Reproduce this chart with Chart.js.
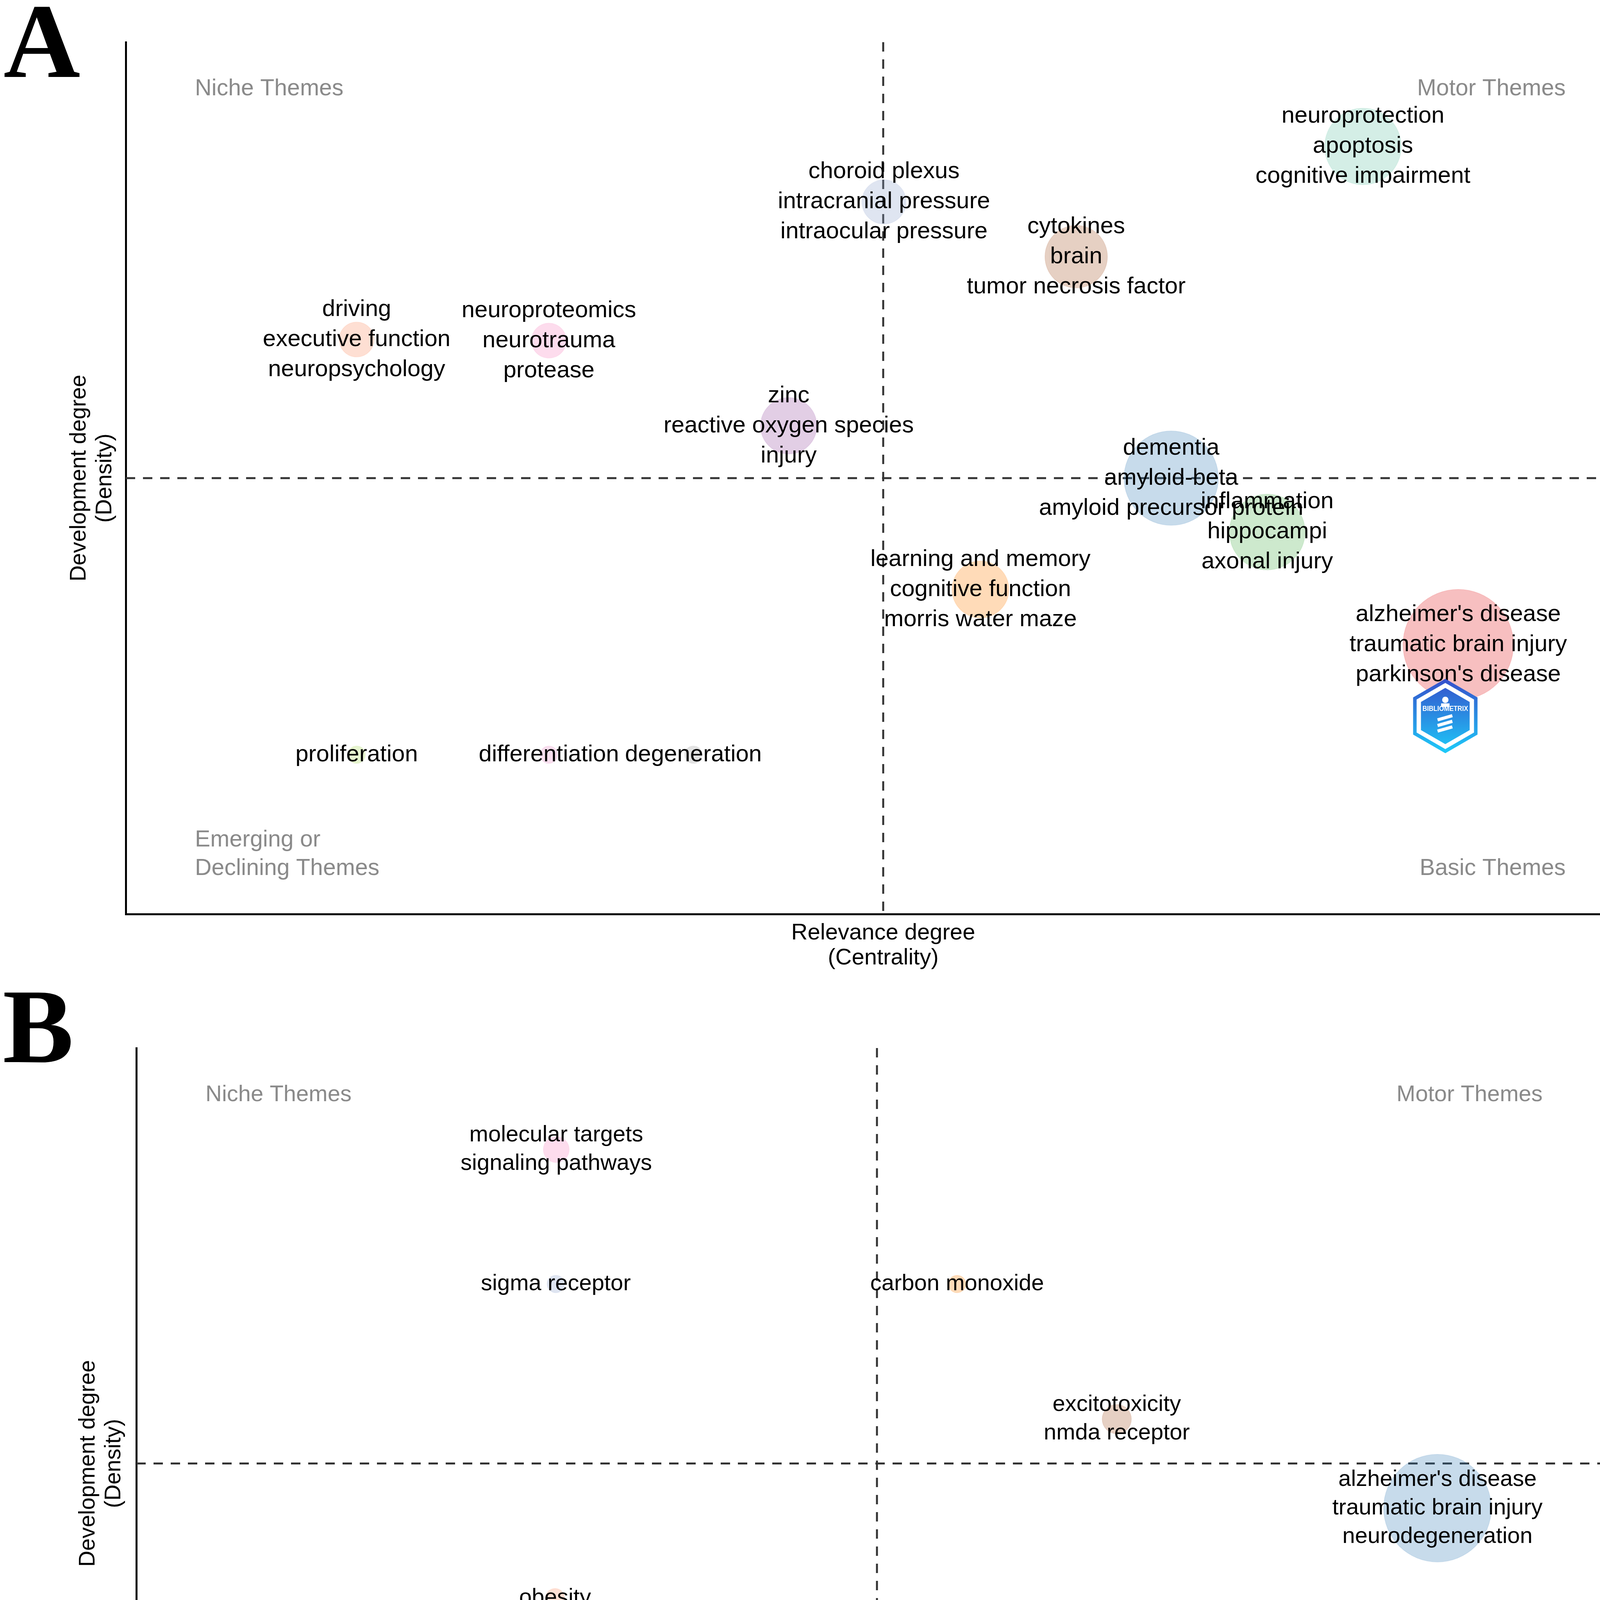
<!DOCTYPE html>
<html>
<head>
<meta charset="utf-8">
<script src="https://cdn.jsdelivr.net/npm/chart.js@4.4.1/dist/chart.umd.min.js"></script>
<style>
  html, body { margin: 0; padding: 0; background: #fff; }
  canvas { display: block; }
</style>
</head>
<body>
<canvas id="panelA" width="4212" height="2500"></canvas>
<canvas id="panelB" width="4212" height="2446"></canvas>
<script>
// Panel A - thematic map, 13 clusters
const labelsA = [
  ['neuroprotection', 'apoptosis', 'cognitive impairment'],
  ['choroid plexus', 'intracranial pressure', 'intraocular pressure'],
  ['cytokines', 'brain', 'tumor necrosis factor'],
  ['driving', 'executive function', 'neuropsychology'],
  ['neuroproteomics', 'neurotrauma', 'protease'],
  ['zinc', 'reactive oxygen species', 'injury'],
  ['dementia', 'amyloid-beta', 'amyloid precursor protein'],
  ['inflammation', 'hippocampi', 'axonal injury'],
  ['learning and memory', 'cognitive function', 'morris water maze'],
  ["alzheimer's disease", 'traumatic brain injury', "parkinson's disease"],
  ['proliferation'],
  ['differentiation'],
  ['degeneration']
];
const centralityA = [81.67, 50.05, 62.74, 15.24, 27.93, 43.76, 69.01, 75.35, 56.42, 87.96, 15.24, 27.93, 37.47];
const densityA    = [88.04, 81.68, 75.40, 65.90, 65.77, 56.00, 50.00, 43.82, 37.23, 30.91, 18.28, 18.28, 18.28];
const freqA       = [96, 32, 64, 20, 20, 52, 146, 94, 53, 200, 5, 5, 5];
const clusterA    = [9, 11, 6, 10, 7, 4, 2, 3, 5, 1, 13, 12, 8];

// Panel B - thematic map, 8 clusters
const labelsB = [
  ['molecular targets', 'signaling pathways'],
  ['sigma receptor'],
  ['carbon monoxide'],
  ['excitotoxicity', 'nmda receptor'],
  ["alzheimer's disease", 'traumatic brain injury', 'neurodegeneration'],
  ['obesity'],
  ['chronic traumatic encephalopathy', 'dementia', 'tau'],
  ['diffusion tensor imaging']
];
const centralityB = [28.35, 28.32, 55.41, 66.19, 87.84, 28.27, 77.00, 28.35];
const densityB    = [87.78, 71.60, 71.60, 55.34, 44.62, 33.80, 22.99, 12.13];
const freqB       = [11, 5, 5, 14, 190, 6, 144, 10];
const clusterB    = [7, 11, 5, 6, 2, 10, 1, 3];

// axes are rescaled so the mean centrality / density sit in the middle
const axisRange = [0, 100];
const meanCentrality = 50;
const meanDensity = 50;
const quadrantNames = ['Niche Themes', 'Motor Themes', ['Emerging or', 'Declining Themes'], 'Basic Themes'];
const xTitle = ['Relevance degree', '(Centrality)'];
const yTitle = ['Development degree', '(Density)'];

const palette = ['#E41A1C', '#377EB8', '#4DAF4A', '#984EA3', '#FF7F00', '#A65628', '#F781BF',
                 '#999999', '#66C2A5', '#FC8D62', '#8DA0CB', '#E78AC3', '#A6D854'];
const SANS = '"Liberation Sans", Arial, sans-serif';
const RADIUS_K = 10;

function rgba(hex, a) {
  const n = parseInt(hex.slice(1), 16);
  return `rgba(${(n >> 16) & 255}, ${(n >> 8) & 255}, ${n & 255}, ${a})`;
}

function drawLogo(ctx, cx, cy, R) {
  const hex = (r) => {
    ctx.beginPath();
    for (let k = 0; k < 6; k++) {
      const ang = -Math.PI / 2 + k * Math.PI / 3;
      const px = cx + r * Math.cos(ang), py = cy + r * Math.sin(ang);
      if (k) ctx.lineTo(px, py); else ctx.moveTo(px, py);
    }
    ctx.closePath();
  };
  const g = ctx.createLinearGradient(cx, cy - R, cx, cy + R);
  g.addColorStop(0, '#3552cc');
  g.addColorStop(1, '#1ec8f8');
  ctx.save();
  hex(R);
  ctx.fillStyle = '#fff';
  ctx.fill();
  ctx.lineWidth = R * 0.1;
  ctx.strokeStyle = g;
  ctx.stroke();
  hex(R * 0.8);
  ctx.fillStyle = g;
  ctx.fill();
  // little figure
  ctx.fillStyle = '#fff';
  ctx.beginPath();
  ctx.arc(cx, cy - R * 0.46, R * 0.09, 0, Math.PI * 2);
  ctx.fill();
  ctx.fillRect(cx - R * 0.12, cy - R * 0.36, R * 0.24, R * 0.1);
  ctx.lineWidth = R * 0.09;
  ctx.strokeStyle = '#fff';
  for (let k = 0; k < 3; k++) {
    const yy = cy + R * (0.05 + k * 0.16);
    ctx.beginPath();
    ctx.moveTo(cx - R * 0.22, yy + R * 0.06);
    ctx.lineTo(cx + R * 0.2, yy - R * 0.06);
    ctx.stroke();
  }
  ctx.font = `bold ${Math.round(R * 0.2)}px ${SANS}`;
  ctx.textAlign = 'center';
  ctx.textBaseline = 'middle';
  ctx.fillText('BIBLIOMETRIX', cx, cy - R * 0.2, R * 1.3);
  ctx.restore();
}

const mapDecor = {
  id: 'mapDecor',
  beforeDatasetsDraw(chart, args, o) {
    const {ctx, chartArea: a, scales: {x, y}} = chart;
    ctx.save();
    // quadrant names
    ctx.fillStyle = '#8a8a8a';
    ctx.font = `${o.quadFont}px ${SANS}`;
    ctx.textBaseline = 'middle';
    const qTop = a.top + 120, qBot = a.bottom - 116;
    ctx.textAlign = 'left';
    ctx.fillText(quadrantNames[0], a.left + 177, qTop);
    ctx.fillText(quadrantNames[2][0], a.left + 177, qBot - 73);
    ctx.fillText(quadrantNames[2][1], a.left + 177, qBot);
    ctx.textAlign = 'right';
    ctx.fillText(quadrantNames[1], a.right - 192, qTop);
    ctx.fillText(quadrantNames[3], a.right - 192, qBot);
    // mean lines
    ctx.strokeStyle = '#333';
    ctx.lineWidth = 5;
    ctx.setLineDash([24, 20]);
    const mx = x.getPixelForValue(meanCentrality);
    const my = y.getPixelForValue(meanDensity);
    ctx.beginPath();
    ctx.moveTo(mx, a.top);
    ctx.lineTo(mx, a.bottom);
    ctx.moveTo(a.left, my);
    ctx.lineTo(a.right, my);
    ctx.stroke();
    ctx.restore();
  },
  afterDatasetsDraw(chart, args, o) {
    const {ctx} = chart;
    const pts = chart.getDatasetMeta(0).data;
    ctx.save();
    ctx.fillStyle = '#000';
    ctx.font = `${o.labelFont}px ${SANS}`;
    ctx.textAlign = 'center';
    ctx.textBaseline = 'middle';
    o.labels.forEach((lines, i) => {
      const p = pts[i];
      const y0 = p.y - (lines.length - 1) / 2 * o.labelLine;
      lines.forEach((t, k) => ctx.fillText(t, p.x, y0 + k * o.labelLine));
    });
    drawLogo(ctx, o.logo[0], o.logo[1], o.logo[2]);
    // panel letter
    ctx.font = 'bold 272px "Liberation Serif", "Times New Roman", serif';
    ctx.textAlign = 'left';
    ctx.textBaseline = 'alphabetic';
    ctx.fillText(o.letter, o.letterPos[0], o.letterPos[1]);
    ctx.restore();
  }
};

function thematicMap(id, p) {
  const data = p.centrality.map((cx, i) => ({
    x: cx,
    y: p.density[i],
    r: RADIUS_K * Math.sqrt(p.freq[i])
  }));
  const colors = p.cluster.map(c => palette[c - 1]);
  return new Chart(document.getElementById(id), {
    type: 'bubble',
    data: {
      datasets: [{
        data: data,
        backgroundColor: colors.map(c => rgba(c, 0.28)),
        borderColor: colors.map(c => rgba(c, 0.12)),
        borderWidth: 2,
        clip: false
      }]
    },
    options: {
      responsive: false,
      devicePixelRatio: 1,
      animation: false,
      events: [],
      layout: { autoPadding: false, padding: p.padding },
      plugins: {
        legend: { display: false },
        tooltip: { enabled: false },
        mapDecor: p.decor
      },
      scales: {
        x: {
          type: 'linear',
          min: axisRange[0],
          max: axisRange[1],
          afterFit: s => { s.height = p.xAxisHeight; },
          ticks: { display: false },
          grid: { display: false },
          border: { display: true, color: '#000', width: 5 },
          title: {
            display: true,
            text: xTitle,
            color: '#000',
            font: { family: SANS, size: 58, lineHeight: p.titleLine + 'px' },
            padding: { top: 0, bottom: p.xTitlePad }
          }
        },
        y: {
          type: 'linear',
          min: axisRange[0],
          max: axisRange[1],
          afterFit: s => { s.width = p.yAxisWidth; },
          ticks: { display: false },
          grid: { display: false },
          border: { display: true, color: '#000', width: 5 },
          title: {
            display: true,
            text: yTitle,
            color: '#000',
            font: { family: SANS, size: 57, lineHeight: '66px' },
            padding: { top: p.yTitlePad, bottom: 0 }
          }
        }
      }
    },
    plugins: [mapDecor]
  });
}

thematicMap('panelA', {
  centrality: centralityA, density: densityA, freq: freqA, cluster: clusterA,
  padding: { left: 0, right: 12, top: 108, bottom: 0 },
  xAxisHeight: 160, yAxisWidth: 322,
  titleLine: 64, xTitlePad: 15, yTitlePad: 170,
  decor: { labels: labelsA, labelFont: 60, labelLine: 77, quadFont: 59,
           logo: [3700, 1833, 90], letter: 'A', letterPos: [9, 197] }
});

thematicMap('panelB', {
  centrality: centralityB, density: densityB, freq: freqB, cluster: clusterB,
  padding: { left: 0, right: 71, top: 183, bottom: 0 },
  xAxisHeight: 136, yAxisWidth: 349,
  titleLine: 60, xTitlePad: 5, yTitlePad: 193,
  decor: { labels: labelsB, labelFont: 58, labelLine: 73, quadFont: 58,
           logo: [3777, 1952, 94], letter: 'B', letterPos: [7, 219] }
});
</script>
</body>
</html>
